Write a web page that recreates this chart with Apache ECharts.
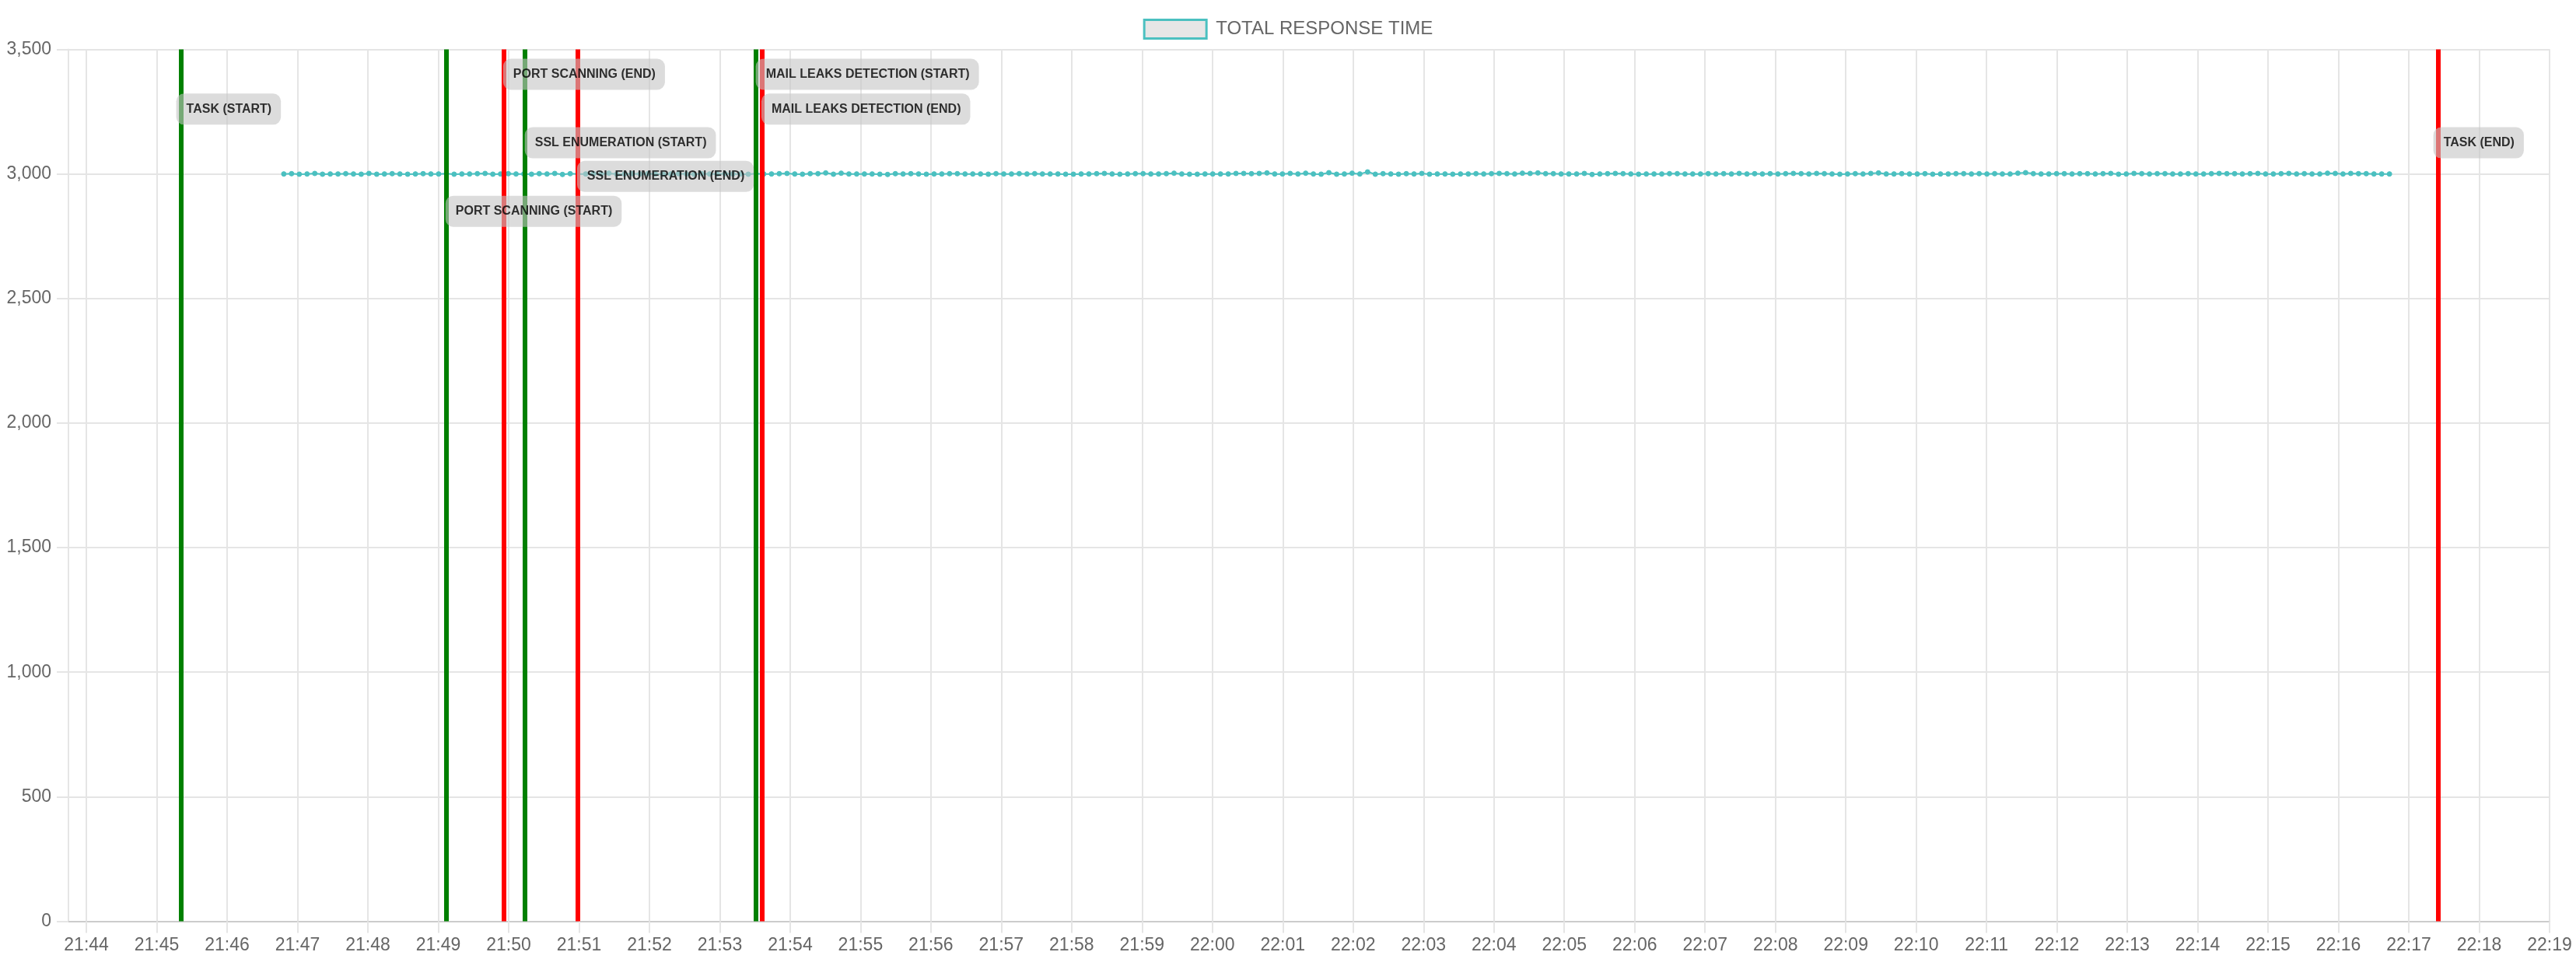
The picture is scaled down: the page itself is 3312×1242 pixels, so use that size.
<!DOCTYPE html>
<html>
<head>
<meta charset="utf-8">
<script src="https://cdn.jsdelivr.net/npm/echarts@6/dist/echarts.min.js"></script>
<style>
html,body{margin:0;padding:0;background:#fff;}
#chart{width:3312px;height:1242px;}
</style>
</head>
<body>
<div id="chart"></div>
<script>
// ---- data ----
const SERIES_NAME = 'TOTAL RESPONSE TIME';
const AXIS_MIN_TIME = '21:43:44.7';
const AXIS_MAX_TIME = '22:19:00';
const Y_TICKS = [0, 500, 1000, 1500, 2000, 2500, 3000, 3500];
const POINT_START_TIME = '21:46:48.3';
const POINT_STEP_SECONDS = 6.6;
const responseTimes = [
  3000, 3001, 2999, 3000, 3002, 2999, 3000, 3000, 3001, 3000,
  2999, 3002, 2999, 3000, 3001, 3000, 2999, 3000, 3001, 3000,
  3000, 3001, 2999, 3000, 3000, 3001, 3002, 2999, 3000, 3001,
  3000, 3000, 2999, 3001, 3000, 3002, 2998, 3001, 3000, 3000,
  3001, 3000, 3003, 2999, 3000, 3001, 3000, 3001, 3000, 2999,
  3000, 3001, 3000, 2999, 3001, 3000, 3000, 3001, 3000, 3000,
  2999, 3001, 3000, 3000, 3001, 3002, 3000, 2999, 3001, 3001,
  3004, 2999, 3003, 3000, 3000, 3000, 3000, 2999, 2998, 3001,
  3000, 3001, 3000, 2999, 3000, 3000, 3001, 3001, 3000, 3000,
  3000, 2999, 3001, 3000, 3000, 3001, 3000, 3001, 3000, 3000,
  3000, 2999, 2999, 3000, 3000, 3001, 3002, 3000, 2999, 3000,
  3001, 3001, 3000, 3000, 3001, 3003, 3000, 2999, 2999, 3000,
  3000, 3000, 3000, 3002, 3002, 3001, 3002, 3004, 3000, 3000,
  3002, 3000, 3003, 3000, 2999, 3005, 2999, 3000, 3003, 3000,
  3008, 2999, 3001, 3000, 2999, 3001, 3000, 3002, 2999, 3000,
  3000, 2999, 3000, 3000, 3001, 3000, 3001, 3002, 3001, 3000,
  3003, 3002, 3004, 3001, 3001, 3000, 3000, 3000, 3002, 2998,
  3000, 3001, 3002, 3001, 3000, 2999, 3000, 3000, 3000, 3001,
  3001, 3000, 3000, 3000, 3001, 3000, 3001, 3000, 3002, 3000,
  3001, 3000, 3001, 3000, 3001, 3002, 3001, 3000, 3002, 3001,
  3000, 2999, 3000, 3001, 3000, 3002, 3004, 3000, 3000, 3001,
  3000, 3000, 3001, 2999, 3000, 3000, 3001, 3001, 3000, 3001,
  3000, 3001, 3000, 3000, 3003, 3005, 3001, 3000, 3000, 3001,
  3001, 3000, 3001, 3001, 3000, 3001, 3002, 2999, 3000, 3002,
  3001, 3000, 3001, 3001, 3000, 3000, 3001, 3000, 3000, 3001,
  3002, 3001, 3001, 3000, 3001, 3002, 3000, 3000, 3001, 3002,
  3000, 3001, 3000, 3000, 3003, 3002, 3000, 3002, 3001, 3001,
  3000, 3000, 3000
];
const eventNames = [
  'TASK (START)', 'PORT SCANNING (START)', 'PORT SCANNING (END)',
  'SSL ENUMERATION (START)', 'SSL ENUMERATION (END)',
  'MAIL LEAKS DETECTION (START)', 'MAIL LEAKS DETECTION (END)', 'TASK (END)'
];
const eventTimes = [
  '21:45:20.9', '21:49:06.5', '21:49:55.6',
  '21:50:14.1', '21:50:58.6',
  '21:53:31.0', '21:53:35.8', '22:17:25.3'
];
const eventKinds = ['start', 'start', 'end', 'start', 'end', 'start', 'end', 'end'];
const eventIsTask = [true, false, false, false, false, false, false, true];
const eventLabelLevels = [3260, 2850, 3400, 3125, 2990, 3400, 3260, 3125];

// ---- helpers ----
function toMs(s) {
  const p = s.split(':');
  return new Date(2024, 0, 1, +p[0], +p[1], 0, 0).getTime() + parseFloat(p[2] || '0') * 1000;
}
const FONT = "'Liberation Sans', Arial, Helvetica, sans-serif";
const TEAL = 'rgb(75,192,192)';
const GRID_COLOR = '#e5e5e5';
const startMs = toMs(POINT_START_TIME);
const lineData = responseTimes.map((v, i) => [startMs + Math.round(i * POINT_STEP_SECONDS * 1000), v]);

const markLineData = eventTimes.map((t, i) => ({
  xAxis: toMs(t),
  lineStyle: { color: eventKinds[i] === 'start' ? '#008000' : '#ff0000', width: 6, type: 'solid', opacity: 1 }
}));

function labelData(isTask) {
  const out = [];
  eventNames.forEach((n, i) => {
    if (eventIsTask[i] === isTask) out.push({ value: [toMs(eventTimes[i]), eventLabelLevels[i]], name: n });
  });
  return out;
}
const labelStyle = (dist) => ({
  show: true,
  position: 'right',
  distance: dist,
  formatter: (p) => p.name,
  color: '#000',
  fontFamily: FONT,
  fontWeight: 'bold',
  fontSize: 16,
  lineHeight: 16,
  backgroundColor: 'rgba(196,196,196,0.75)',
  borderRadius: 10,
  padding: [12, 12, 12, 13]
});

const chart = echarts.init(document.getElementById('chart'), null, { renderer: 'canvas' });
chart.setOption({
  animation: false,
  backgroundColor: '#fff',
  legend: {
    show: true,
    top: 19,
    left: 'center',
    itemWidth: 80,
    itemHeight: 24,
    data: [{
      name: SERIES_NAME,
      icon: 'rect',
      itemStyle: { color: '#e6e6e6', borderColor: TEAL, borderWidth: 3 }
    }],
    textStyle: { color: '#666', fontSize: 24, fontFamily: FONT, padding: [0, 0, 0, 7] }
  },
  grid: { left: 88, right: 34, top: 63.5, bottom: 57.5, containLabel: false },
  xAxis: {
    type: 'time',
    min: toMs(AXIS_MIN_TIME),
    max: toMs(AXIS_MAX_TIME),
    minInterval: 60000,
    maxInterval: 60000,
    splitNumber: 36,
    axisLine: { show: true, onZero: false, lineStyle: { color: '#cccccc', width: 2 } },
    axisTick: { show: true, length: 15, lineStyle: { color: GRID_COLOR, width: 2 } },
    splitLine: { show: true, lineStyle: { color: GRID_COLOR, width: 2 } },
    axisLabel: {
      formatter: '{HH}:{mm}',
      color: '#666',
      fontSize: 23,
      fontFamily: FONT,
      margin: 20,
      hideOverlap: false
    }
  },
  yAxis: {
    type: 'value',
    min: Y_TICKS[0],
    max: Y_TICKS[Y_TICKS.length - 1],
    interval: Y_TICKS[1] - Y_TICKS[0],
    axisLine: { show: true, lineStyle: { color: GRID_COLOR, width: 2 } },
    axisTick: { show: true, length: 15, lineStyle: { color: GRID_COLOR, width: 2 } },
    splitLine: { show: true, lineStyle: { color: GRID_COLOR, width: 2 } },
    axisLabel: {
      formatter: (v) => v.toLocaleString('en-US'),
      color: '#666',
      fontSize: 23,
      fontFamily: FONT,
      margin: 22
    }
  },
  series: [
    {
      name: SERIES_NAME,
      type: 'line',
      data: lineData,
      z: 2,
      symbol: 'circle',
      symbolSize: 6,
      showSymbol: true,
      showAllSymbol: true,
      lineStyle: { color: TEAL, width: 2 },
      itemStyle: { color: TEAL, borderColor: TEAL, borderWidth: 1 }
    },
    {
      name: 'markers',
      type: 'line',
      data: [],
      z: 5,
      markLine: {
        silent: true,
        symbol: ['none', 'none'],
        label: { show: false },
        emphasis: { disabled: true },
        data: markLineData
      }
    },
    {
      name: 'taskLabels',
      type: 'scatter',
      z: 10,
      symbol: 'circle',
      symbolSize: 1,
      itemStyle: { color: 'rgba(0,0,0,0)' },
      label: labelStyle(-7),
      data: labelData(true)
    },
    {
      name: 'phaseLabels',
      type: 'scatter',
      z: 10,
      symbol: 'circle',
      symbolSize: 1,
      itemStyle: { color: 'rgba(0,0,0,0)' },
      label: labelStyle(-1),
      data: labelData(false)
    }
  ]
});
</script>
</body>
</html>
